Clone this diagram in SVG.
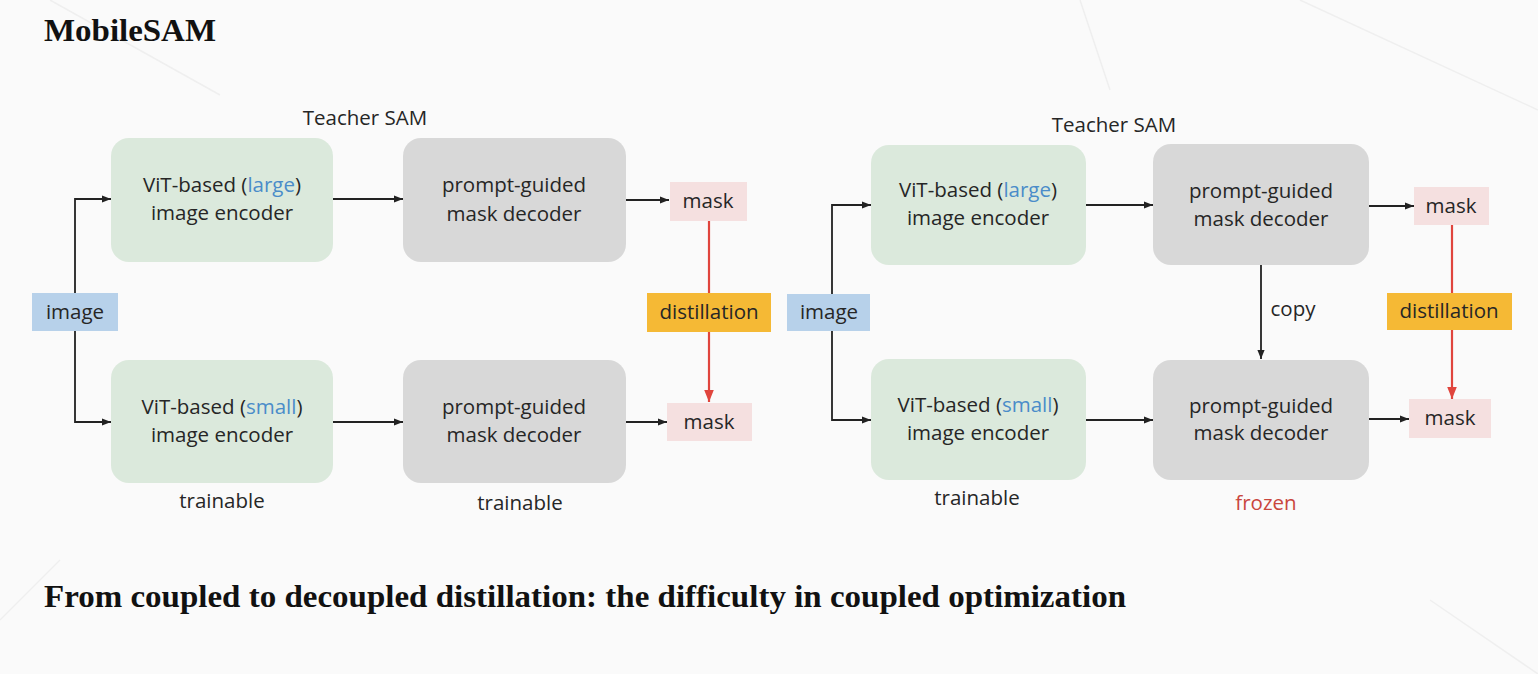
<svg xmlns="http://www.w3.org/2000/svg" width="1538" height="674" viewBox="0 0 1538 674">
<defs>
<marker id="ab" viewBox="0 0 10 10" refX="10" refY="5" markerWidth="9" markerHeight="9" markerUnits="userSpaceOnUse" orient="auto"><path d="M0,1 L10,5 L0,9 z" fill="#222"/></marker>
<marker id="ar" viewBox="0 0 10 10" refX="10" refY="5" markerWidth="12" markerHeight="12" markerUnits="userSpaceOnUse" orient="auto"><path d="M0,1 L10,5 L0,9 z" fill="#e0453d"/></marker>
<style>
.t{font-family:"Open Sans","Noto Sans","Liberation Sans",sans-serif;font-size:20.5px;fill:#262626;text-anchor:middle}
.b{fill:#4a8cc9}
.enc{fill:#dbe9dc}
.dec{fill:#d8d8d8}
.mask{fill:#f5e0e0}
.img{fill:#b7d1ea}
.dist{fill:#f5b935}
.c{stroke:#222;stroke-width:1.8;fill:none}
.r{stroke:#e0453d;stroke-width:2.2;fill:none}
.h{font-family:"Liberation Serif",serif;font-weight:bold;font-size:31px;fill:#111}
</style>
</defs>
<rect width="1538" height="674" fill="#fafafa"/>
<g stroke="#efefef" stroke-width="1.5" fill="none">
<line x1="50" y1="0" x2="220" y2="95"/>
<line x1="1080" y1="0" x2="1110" y2="90"/>
<line x1="1300" y1="0" x2="1538" y2="110"/>
<line x1="1430" y1="600" x2="1538" y2="674"/>
<line x1="0" y1="620" x2="60" y2="560"/>
</g>
<text class="h" x="44" y="41" textLength="172" lengthAdjust="spacingAndGlyphs">MobileSAM</text>
<text class="h" x="44" y="607" textLength="1082" lengthAdjust="spacingAndGlyphs">From coupled to decoupled distillation: the difficulty in coupled optimization</text>

<g id="connectors">
<polyline class="c" points="75,293 75,199 111,199" marker-end="url(#ab)"/>
<polyline class="c" points="75,331 75,422 111,422" marker-end="url(#ab)"/>
<line class="c" x1="333" y1="199" x2="403" y2="199" marker-end="url(#ab)"/>
<line class="c" x1="333" y1="422" x2="403" y2="422" marker-end="url(#ab)"/>
<line class="c" x1="626" y1="200" x2="669" y2="200" marker-end="url(#ab)"/>
<line class="c" x1="626" y1="422" x2="667" y2="422" marker-end="url(#ab)"/>
<line class="r" x1="709" y1="221" x2="709" y2="293"/>
<line class="r" x1="709" y1="332" x2="709" y2="402" marker-end="url(#ar)"/>

<polyline class="c" points="832,294 832,205 871,205" marker-end="url(#ab)"/>
<polyline class="c" points="832,331 832,420 871,420" marker-end="url(#ab)"/>
<line class="c" x1="1086" y1="205" x2="1153" y2="205" marker-end="url(#ab)"/>
<line class="c" x1="1086" y1="420" x2="1153" y2="420" marker-end="url(#ab)"/>
<line class="c" x1="1369" y1="206" x2="1414" y2="206" marker-end="url(#ab)"/>
<line class="c" x1="1369" y1="419" x2="1409" y2="419" marker-end="url(#ab)"/>
<line class="c" x1="1261" y1="265" x2="1261" y2="359" marker-end="url(#ab)"/>
<line class="r" x1="1452" y1="225" x2="1452" y2="293"/>
<line class="r" x1="1452" y1="330" x2="1452" y2="399" marker-end="url(#ar)"/>
</g>

<text class="t" x="365" y="125">Teacher SAM</text>
<text class="t" x="1114" y="132">Teacher SAM</text>

<g id="image-l"><rect class="img" x="32" y="293" width="86" height="38"/><text class="t" x="75" y="319">image</text></g>
<g id="enc-large-l"><rect class="enc" x="111" y="138" width="222" height="124" rx="18"/><text class="t" x="222" y="192">ViT-based (<tspan class="b">large</tspan>)</text><text class="t" x="222" y="220">image encoder</text></g>
<g id="enc-small-l"><rect class="enc" x="111" y="360" width="222" height="123" rx="18"/><text class="t" x="222" y="414">ViT-based (<tspan class="b">small</tspan>)</text><text class="t" x="222" y="442">image encoder</text></g>
<g id="dec-top-l"><rect class="dec" x="403" y="138" width="223" height="124" rx="18"/><text class="t" x="514" y="192">prompt-guided</text><text class="t" x="514" y="221">mask decoder</text></g>
<g id="dec-bot-l"><rect class="dec" x="403" y="360" width="223" height="123" rx="18"/><text class="t" x="514" y="414">prompt-guided</text><text class="t" x="514" y="442">mask decoder</text></g>
<g id="mask-top-l"><rect class="mask" x="670" y="182" width="77" height="39"/><text class="t" x="708" y="208">mask</text></g>
<g id="mask-bot-l"><rect class="mask" x="667" y="403" width="85" height="38"/><text class="t" x="709" y="429">mask</text></g>
<g id="dist-l"><rect class="dist" x="647" y="293" width="124" height="39"/><text class="t" x="709" y="319">distillation</text></g>
<text class="t" x="222" y="508">trainable</text>
<text class="t" x="520" y="510">trainable</text>

<g id="image-r"><rect class="img" x="787" y="294" width="83" height="37"/><text class="t" x="829" y="319">image</text></g>
<g id="enc-large-r"><rect class="enc" x="871" y="145" width="215" height="120" rx="18"/><text class="t" x="978" y="197">ViT-based (<tspan class="b">large</tspan>)</text><text class="t" x="978" y="225">image encoder</text></g>
<g id="enc-small-r"><rect class="enc" x="871" y="359" width="215" height="121" rx="18"/><text class="t" x="978" y="412">ViT-based (<tspan class="b">small</tspan>)</text><text class="t" x="978" y="440">image encoder</text></g>
<g id="dec-top-r"><rect class="dec" x="1153" y="144" width="216" height="121" rx="18"/><text class="t" x="1261" y="198">prompt-guided</text><text class="t" x="1261" y="226">mask decoder</text></g>
<g id="dec-bot-r"><rect class="dec" x="1153" y="360" width="216" height="120" rx="18"/><text class="t" x="1261" y="413">prompt-guided</text><text class="t" x="1261" y="440">mask decoder</text></g>
<g id="mask-top-r"><rect class="mask" x="1414" y="187" width="75" height="38"/><text class="t" x="1451" y="213">mask</text></g>
<g id="mask-bot-r"><rect class="mask" x="1409" y="399" width="82" height="39"/><text class="t" x="1450" y="425">mask</text></g>
<g id="dist-r"><rect class="dist" x="1387" y="293" width="125" height="37"/><text class="t" x="1449" y="318">distillation</text></g>
<text class="t" x="1293" y="316">copy</text>
<text class="t" x="977" y="505">trainable</text>
<text class="t" x="1266" y="510" style="fill:#c9463d">frozen</text>
</svg>
